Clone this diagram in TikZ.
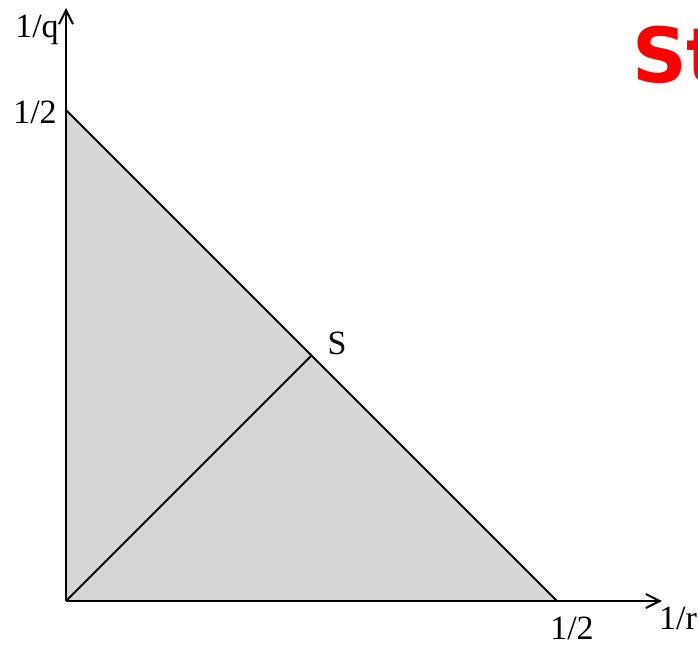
\documentclass[tikz,border=0pt]{standalone}
\usepackage{fontspec}
\setmainfont{Liberation Serif}
\newfontfamily\redfont{DejaVu Sans}
\usetikzlibrary{arrows.meta}
\begin{document}
\begin{tikzpicture}[x=1pt,y=-1pt,
  lbl/.style={font=\fontsize{34}{40}\selectfont, inner sep=0pt},
  axis/.style={line width=2pt,-{Straight Barb[length=14pt,width=14pt,line width=2pt]}},
  edge/.style={line width=2pt}]
\useasboundingbox (0,0) rectangle (698,645);
\coordinate (O) at (66,601);
\coordinate (Q) at (66,110);
\coordinate (R) at (557,601);
\coordinate (S) at (311.5,355.5);
\coordinate (Ytip) at (66,8);
\coordinate (Xtip) at (662,601);
\fill[fill={rgb,255:red,214;green,214;blue,214}] (O) -- (Q) -- (R) -- cycle;
\draw[edge] (Q) -- (R);
\draw[edge] (O) -- (S);
\draw[axis] (O) -- (Ytip);
\draw[axis] (O) -- (Xtip);
\node[lbl] (lq) at (37,30) {1/q};
\node[lbl] (lq2) at (35,112) {1/2};
\node[lbl] (lr2) at (572,628) {1/2};
\node[lbl] (lr) at (678,618) {1/r};
\node[lbl] (lS) at (337,343) {S};
\node[font=\redfont\bfseries\fontsize{76}{80}\selectfont, text={rgb,255:red,255;green,0;blue,0}, inner sep=0pt, anchor=base west] (title) at (632,82) {St};
\end{tikzpicture}
\end{document}
